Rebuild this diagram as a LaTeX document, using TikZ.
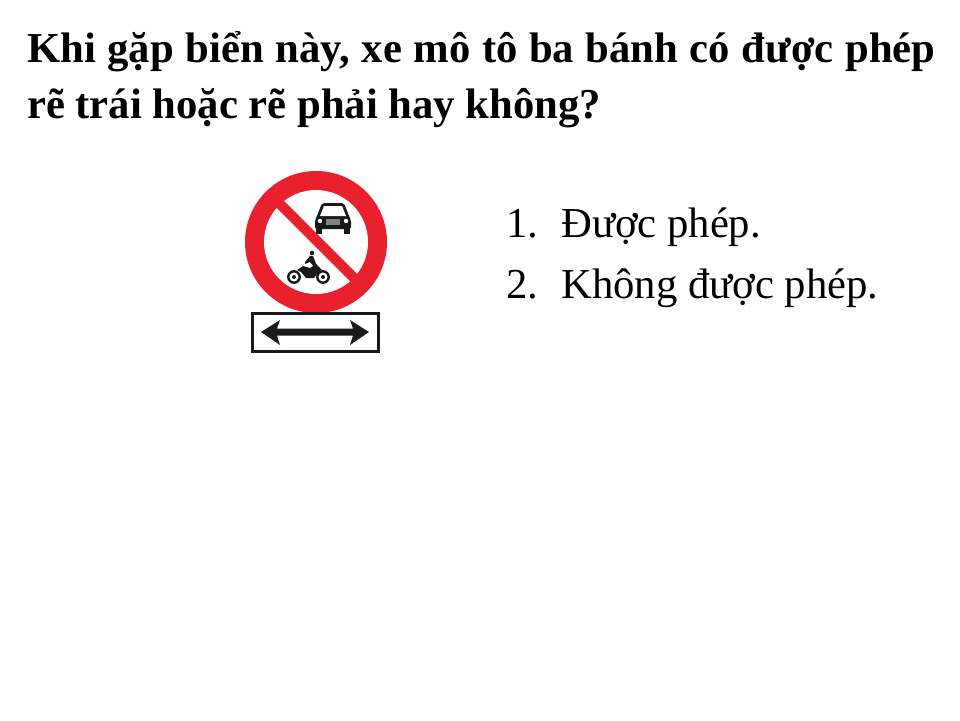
\documentclass[tikz,border=0pt]{standalone}
\usepackage{fontspec}
\setmainfont{Liberation Serif}
\definecolor{signred}{HTML}{E9202E}
\definecolor{signblack}{HTML}{1A1A1A}
\begin{document}
\begin{tikzpicture}[
      x=1pt, y=-1pt,
      question/.style={anchor=base west, inner sep=0pt,
        font=\fontsize{42.67}{56}\selectfont\bfseries},
      answer/.style={anchor=base west, inner sep=0pt,
        font=\fontsize{42.67}{50}\selectfont},
      wheel/.style={draw=signblack, line width=2.4pt, fill=white},
      partfill/.style={fill=signblack, draw=none}
    ]
      \useasboundingbox (0,0) rectangle (960,720);
      \node[question] (title1) at (27,62)
        {\spaceskip=11.6pt Khi gặp biển này, xe mô tô ba bánh có được phép};
      \node[question] (title2) at (27,118) {rẽ trái hoặc rẽ phải hay không?};
      % sign
      \fill[signred] (316,242) circle (71);
      \fill[white] (316,242) circle (52);
      \begin{scope}
        \clip (316,242) circle (53);
        \draw[signred, line width=10pt] (267,191) -- (367,291);
      \end{scope}
      % car
      \fill[partfill, rounded corners=2pt] (322,203) -- (344,203) -- (349,216)
        -- (351,220) -- (351,229) -- (315,229) -- (315,220) -- (317,216) -- cycle;
      \fill[partfill] (316,228) rectangle (322,234);
      \fill[partfill] (344,228) rectangle (350,234);
      \fill[white] (324,206) -- (342,206) -- (346,216) -- (320,216) -- cycle;
      \fill[white] (320,221) circle (2.2);
      \fill[white] (346,221) circle (2.2);
      \fill[signblack!55] (326,219) rectangle (340,225);
      % motorcycle
      \draw[wheel] (294,277) circle (5.7);
      \draw[wheel] (323,277) circle (5.7);
      \fill[signblack] (294,277) circle (2);
      \fill[signblack] (323,277) circle (2);
      \fill[partfill] (297,270) -- (303,266) -- (310,268) -- (316,264) -- (322,270)
        -- (318,273) -- (314,278) -- (306,278) -- (301,272) -- cycle;
      \fill[partfill] (312,253) circle (2.3);
      \fill[partfill] (310,256) -- (313,256) -- (317,266) -- (314,267) -- (310,262)
        -- (305,264) -- (305,262) -- cycle;
      % plate
      \draw[signblack, line width=3pt, fill=white] (252.5,313.5) rectangle (378.5,351.5);
      \fill[signblack] (261,332) -- (280,320) -- (277,328.5) -- (353,328.5) -- (350,320)
        -- (369,332) -- (350,345) -- (353,335.5) -- (277,335.5) -- (280,345) -- cycle;
      % answers
      \node[answer] (num1) at (506,237) {1.};
      \node[answer] (item1) at (561,237) {Được phép.};
      \node[answer] (num2) at (506,298) {2.};
      \node[answer] (item2) at (561,298) {Không được phép.};
    \end{tikzpicture}
\end{document}
